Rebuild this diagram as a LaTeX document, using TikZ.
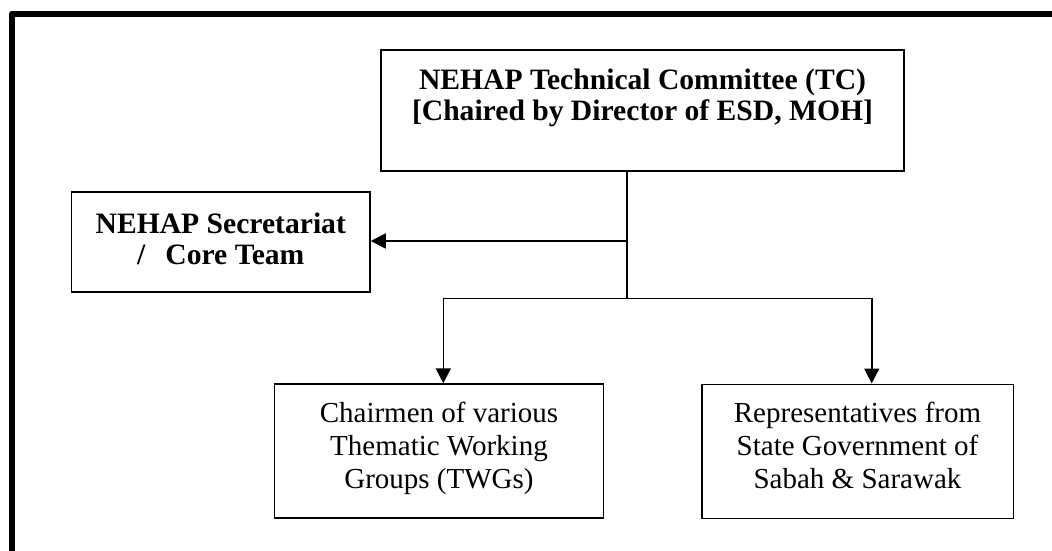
\documentclass[tikz,border=0pt]{standalone}
\usepackage{fontspec}
\setmainfont{Liberation Serif}
\usetikzlibrary{arrows.meta}
\begin{document}
\begin{tikzpicture}[x=1pt,y=-1pt,
  box/.style={draw, line width=1.6pt, inner sep=0pt},
  conn/.style={line width=1.6pt},
  arr/.style={conn, -{Triangle[length=15pt,width=15pt]}},
  boldtext/.style={font=\fontsize{29.6}{31}\selectfont\bfseries, align=center, inner sep=0pt},
  plaintext/.style={font=\fontsize{29}{33}\selectfont, align=center, inner sep=0pt}]
\useasboundingbox (0,0) rectangle (1052,550);
\clip (0,0) rectangle (1052,550);
\fill[white] (0,0) rectangle (1052,550);
\draw[line width=6pt, line join=round] (12,13.5) rectangle (1080,580);

% boxes
\node[box, minimum width=523pt, minimum height=121pt] (tc) at (642.5,110.5) {};
\node[box, minimum width=298.3pt, minimum height=100pt] (sec) at (220.8,241.7) {};
\node[box, minimum width=329pt, minimum height=134pt] (twg) at (438.8,451.1) {};
\node[box, minimum width=311.6pt, minimum height=134pt] (rep) at (857.5,451.3) {};

% texts
\node[boldtext] (tct) at (642.5,98.5) {\strut NEHAP Technical Committee (TC)\\ \strut{[}Chaired by Director of ESD, MOH{]}};
\node[boldtext] (sect) at (220.8,242.3) {\strut NEHAP Secretariat\\ \strut /\hspace{20pt}Core Team};
\node[plaintext] (twgt) at (439,448.8) {\strut Chairmen of various\\ \strut Thematic Working\\ \strut Groups (TWGs)};
\node[plaintext] (rept) at (857.5,448.8) {\strut Representatives from\\ \strut State Government of\\ \strut Sabah \& Sarawak};

% connectors
\coordinate (j) at (626.7,298.3);
\coordinate (k) at (626.7,241);
\coordinate (jl) at (443.3,298.3);
\coordinate (jr) at (871.7,298.3);
\draw[conn] (tc.south -| j) -- (j);
\draw[arr] (k) -- (k -| sec.east);
\draw[conn, line cap=rect] (jl) -- (jr);
\draw[arr] (jl) -- (jl |- twg.north);
\draw[arr] (jr) -- (jr |- rep.north);
\end{tikzpicture}
\end{document}
